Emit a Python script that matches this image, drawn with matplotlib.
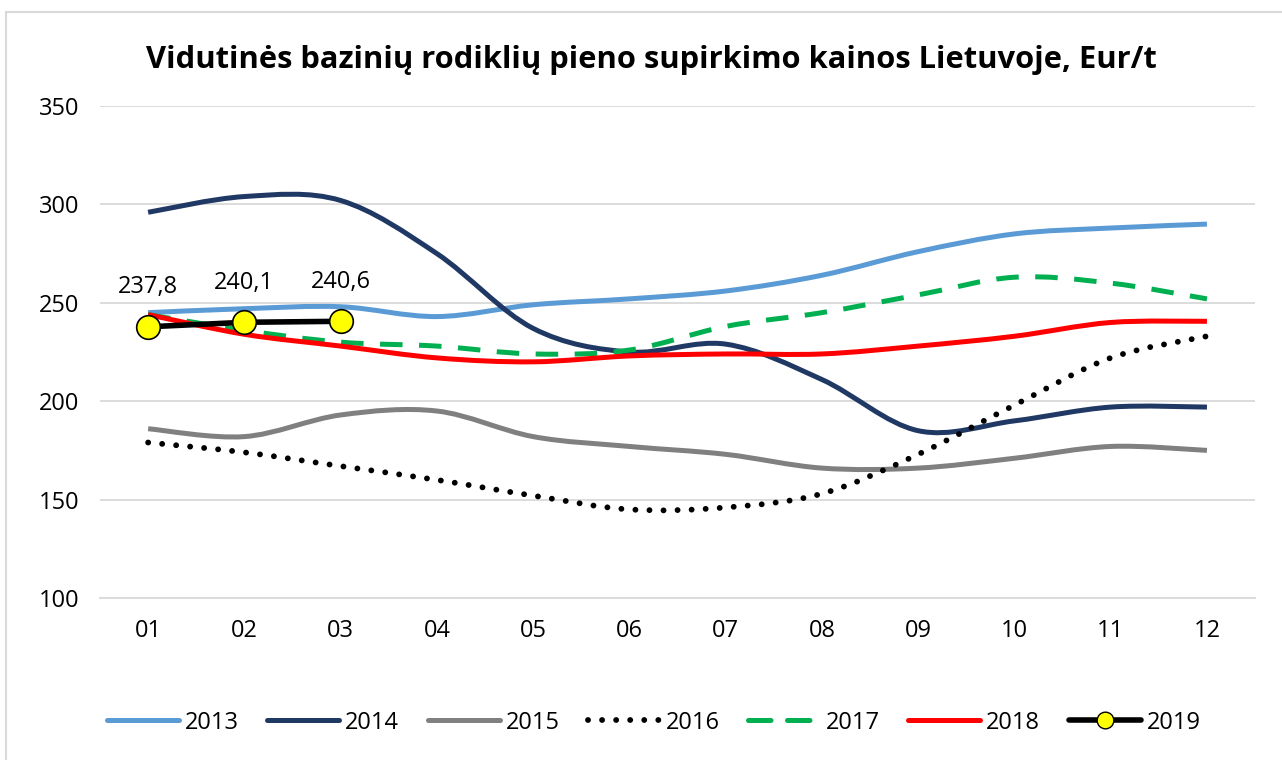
import numpy as np
import matplotlib.pyplot as plt
from matplotlib.path import Path
from matplotlib.patches import PathPatch, Rectangle
from matplotlib.lines import Line2D

plt.rcParams['font.family'] = ['Open Sans', 'DejaVu Sans']

months = ['01', '02', '03', '04', '05', '06', '07', '08', '09', '10', '11', '12']
y2013 = [245, 247, 248, 243, 249, 252, 256, 264, 276, 285, 288, 290]
y2014 = [296, 304, 302, 275, 237, 225, 229, 211, 185, 190, 197, 197]
y2015 = [186, 182, 193, 195, 182, 177, 173, 166, 166, 171, 177, 175]
y2016 = [179, 174, 167, 160, 152, 145, 146, 153, 173, 198, 222, 233]
y2017 = [244, 236, 230, 228, 224, 226, 238, 245, 254, 263, 260, 252]
y2018 = [244, 234, 228, 222, 220, 223, 224, 224, 228, 233, 240, 240.6]
y2019 = [237.8, 240.1, 240.6]
labels2019 = ['237,8', '240,1', '240,6']


def smooth_path(xs, ys):
    # Excel-like smoothed line: Catmull-Rom segments as cubic Bezier
    p = np.column_stack([xs, ys]).astype(float)
    ext = np.vstack([p[0], p, p[-1]])
    verts = [p[0]]
    codes = [Path.MOVETO]
    for i in range(len(p) - 1):
        p0, p1, p2, p3 = ext[i], ext[i + 1], ext[i + 2], ext[i + 3]
        c1 = p1 + (p2 - p0) / 6
        c2 = p2 - (p3 - p1) / 6
        verts += [c1, c2, p2]
        codes += [Path.CURVE4] * 3
    return Path(verts, codes)


fig = plt.figure(figsize=(12.82, 7.6), dpi=100)
ax = fig.add_axes([0.078, 0.2132, 0.901, 0.6473])

x = np.arange(1, 13)
styles = [
    ('2013', y2013, '#5b9bd5', '-', 3.6),
    ('2014', y2014, '#203864', '-', 3.6),
    ('2015', y2015, '#808080', '-', 3.6),
    ('2016', y2016, 'black', (0, (0.01, 2.4)), 4.2),
    ('2017', y2017, '#00b050', (0, (4.5, 3.3)), 3.6),
    ('2018', y2018, '#ff0000', '-', 3.6),
]
handles = []
for name, ys, col, ls, lw in styles:
    capstyle = 'round' if name == '2016' else 'butt'
    patch = PathPatch(smooth_path(x, ys), fill=False, edgecolor=col, lw=lw,
                      linestyle=ls, capstyle=capstyle, zorder=3)
    ax.add_patch(patch)
    handles.append(Line2D([], [], color=col, lw=lw, linestyle=ls,
                          solid_capstyle='round', dash_capstyle='round'))

ax.plot(x[:3], y2019, color='black', lw=4, marker='o', markersize=17,
        markerfacecolor='#ffff00', markeredgecolor='black', markeredgewidth=1.2,
        zorder=5)
handles.append(Line2D([], [], color='black', lw=4, marker='o', markersize=12,
                      markerfacecolor='#ffff00', markeredgecolor='black',
                      solid_capstyle='round'))
for xi, yi, lab in zip(x[:3], y2019, labels2019):
    ax.annotate(lab, (xi, yi), xytext=(0, 20), textcoords='offset points',
                ha='center', va='bottom', fontsize=17)

ax.set_xlim(0.5, 12.5)
ax.set_ylim(100, 350)
ax.set_yticks([100, 150, 200, 250, 300, 350])
ax.set_xticks(x)
ax.set_xticklabels(months)
ax.tick_params(length=0, labelsize=17)
ax.tick_params(axis='x', pad=15)
ax.tick_params(axis='y', pad=15)
ax.grid(axis='y', color='#d9d9d9', lw=1.3)
ax.set_axisbelow(True)
for s in ['top', 'right', 'left']:
    ax.spines[s].set_visible(False)
ax.spines['bottom'].set_color('#d9d9d9')
ax.spines['bottom'].set_linewidth(1.3)

fig.text(0.508, 0.921, 'Vidutinės bazinių rodiklių pieno supirkimo kainos Lietuvoje, Eur/t',
         ha='center', va='center', fontsize=22.2, fontweight='bold')

fig.legend(handles, ['2013', '2014', '2015', '2016', '2017', '2018', '2019'],
           loc='center', bbox_to_anchor=(0.51, 0.049), ncol=7, frameon=False,
           fontsize=17, handlelength=3.05, handletextpad=0.25, columnspacing=1.2)

fig.add_artist(Rectangle((6 / 1282, -0.01), 1.0, 1 - 12 / 760 + 0.01,
                         transform=fig.transFigure, fill=False,
                         edgecolor='#d9d9d9', lw=1.5))

fig.savefig('out.png', dpi=100)
